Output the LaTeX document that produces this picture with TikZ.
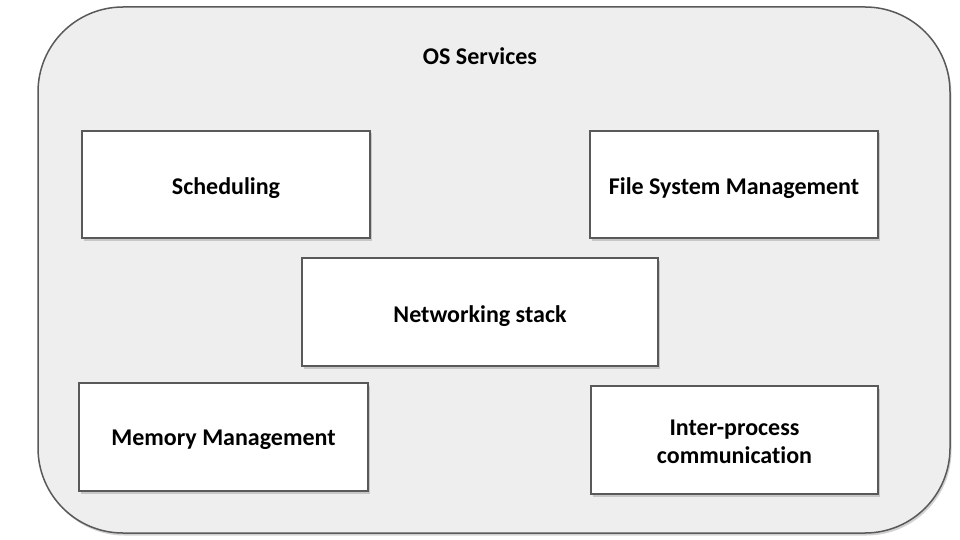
\documentclass[tikz,border=0pt]{standalone}
\usepackage{fontspec}
\setmainfont[Ligatures=NoCommon]{Carlito}
\usetikzlibrary{shadows}
\definecolor{outerfill}{HTML}{EEEEEE}
\definecolor{edge}{HTML}{595959}
\newcommand\svcline[2]{\raisebox{-#1}[0pt][0pt]{#2}}
\tikzset{
  svcfont/.style={font=\fontsize{24}{28.3}\selectfont\bfseries},
  svc/.style={draw=edge, line width=1.2pt, fill=white, svcfont,
    drop shadow={opacity=0.35, shadow xshift=1.5pt, shadow yshift=-2.5pt}},
}
\begin{document}
\begin{tikzpicture}[x=1pt,y=-1pt]
\useasboundingbox (0,0) rectangle (960,540);
\fill[white] (0,0) rectangle (960,540);
\node[draw=edge, line width=1.5pt, fill=outerfill, rounded corners=85pt,
  minimum width=912pt, minimum height=526pt,
  drop shadow={opacity=0.35, shadow xshift=1.5pt, shadow yshift=-2.5pt}]
  (os) at (494,270) {};
\node[svcfont, anchor=base] (title) at (480,65) {OS Services};
\node[svc, minimum width=288pt, minimum height=107pt] (sched) at (226,184.5) {\svcline{10pt}{Scheduling}};
\node[svc, minimum width=288pt, minimum height=107pt] (fs) at (734,184.5) {\svcline{10pt}{File System Management}};
\node[svc, minimum width=356pt, minimum height=108pt] (net) at (480,312) {\svcline{10.5pt}{Networking stack}};
\node[svc, minimum width=289pt, minimum height=108pt] (mem) at (223.5,437) {\svcline{8.8pt}{Memory Management}};
\node[svc, minimum width=287pt, minimum height=108pt] (ipc) at (734.5,440)
  {\raisebox{5pt}[0pt][0pt]{\begin{tabular}[t]{@{}c@{}}Inter-process\\communication\end{tabular}}};
\end{tikzpicture}
\end{document}
